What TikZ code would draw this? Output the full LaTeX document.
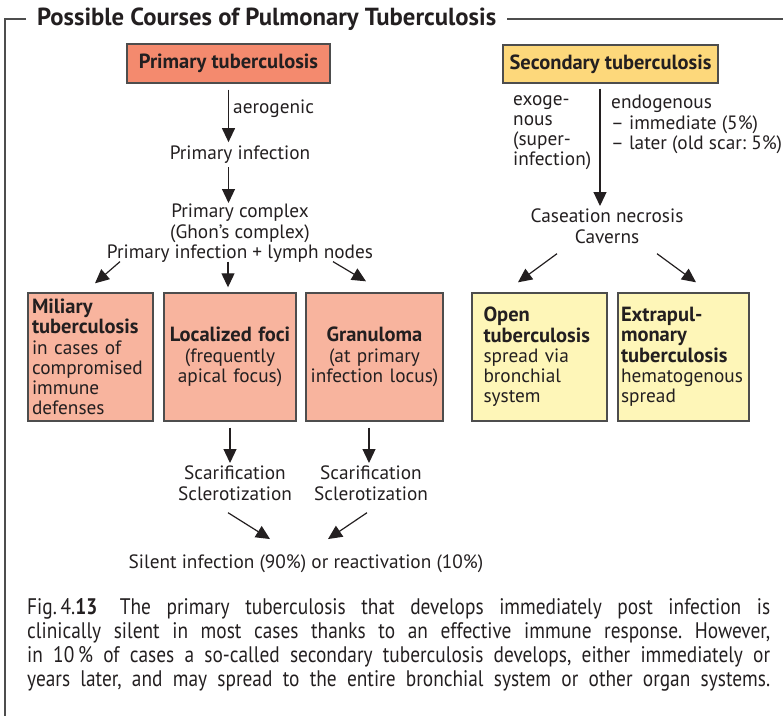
\documentclass[tikz,border=0pt]{standalone}
\usepackage{fontspec}
\setmainfont{PT Sans}
\newfontfamily\capfont[FakeStretch=0.86]{PT Sans}
\usetikzlibrary{arrows.meta}
\definecolor{ink}{HTML}{231F20}
\definecolor{edge}{HTML}{4D4D4D}
\definecolor{primc}{HTML}{F48A6E}
\definecolor{primlt}{HTML}{F8B49E}
\definecolor{secc}{HTML}{FDD87B}
\definecolor{seclt}{HTML}{FEF6B8}
\newcommand\bx[1]{{\fontsize{20.5}{20.3}\selectfont\bfseries #1}}
\newcommand\capline[1]{\makebox[743pt][s]{#1}}
\begin{document}
\frenchspacing
\begin{tikzpicture}[x=1pt,y=-1pt,
  every node/.style={text=ink, inner sep=0pt},
  font=\fontsize{19.3}{20.3}\selectfont,
  arr/.style={draw=ink, line width=1.2pt, -{Triangle[length=14pt,width=13pt]}},
  framel/.style={draw=edge, line width=1.2pt},
  box/.style={draw=edge, line width=1.4pt, align=center},
  boldf/.style={font=\bfseries\fontsize{20.5}{20.3}\selectfont}]
\useasboundingbox (0,0) rectangle (783,716);

% title and frame
\node[anchor=base west, font=\bfseries\fontsize{24.7}{26}\selectfont] (title) at (37,25) {Possible Courses of Pulmonary Tuberculosis};
\draw[framel] (26,19) -- (5,19) -- (5,716);
\draw[framel] (507,19) -- (783,19);

% primary branch
\node[box, fill=primc, minimum width=203pt, minimum height=39pt, boldf] (ptb) at (228.5,63.5) {Primary tuberculosis};
\node[anchor=base west] (aero) at (233,113) {aerogenic};
\node[anchor=base] (pinf) at (240,159) {Primary infection};
\node[anchor=north, align=center] (pcomp) at (240,204) {Primary complex\\(Ghon's complex)\\Primary infection + lymph nodes};

\node[box, fill=primlt, minimum width=125pt, minimum height=128pt, text width=117pt, align=left] (mil) at (90.5,357)
  {\bx{Miliary}\\\bx{tuberculosis}\\in cases of\\compromised\\immune\\defenses};
\node[box, fill=primlt, minimum width=132pt, minimum height=128pt, text width=126pt] (loc) at (230,357)
  {\bx{Localized foci}\\(frequently\\apical focus)};
\node[box, fill=primlt, minimum width=137pt, minimum height=128pt, text width=133pt] (gran) at (374.5,357)
  {\bx{Granuloma}\\(at primary\\infection locus)};

\node[anchor=north, align=center] (scar1) at (235,466) {Scarification\\Sclerotization};
\node[anchor=north, align=center] (scar2) at (371,466) {Scarification\\Sclerotization};
\node[anchor=base] (silent) at (306,568) {Silent infection (90\%) or reactivation (10\%)};

\draw[arr] ([yshift=-6pt]ptb.south) -- ([yshift=3pt]ptb.south |- pinf.north);
\draw[arr] ([yshift=-4pt]ptb.south |- pinf.south) -- ([yshift=1pt]ptb.south |- pcomp.north);
\draw[arr] ([xshift=-120pt,yshift=1pt]pcomp.south) -- ([xshift=4.5pt,yshift=9pt]mil.north);
\draw[arr] ([xshift=-12pt,yshift=1pt]pcomp.south) -- ([xshift=-2pt,yshift=5pt]loc.north);
\draw[arr] ([xshift=93pt,yshift=1pt]pcomp.south) -- ([xshift=-8.5pt,yshift=11pt]gran.north);
\draw[arr] ([yshift=-6pt]loc.south) -- ([yshift=3pt]loc.south |- scar1.north);
\draw[arr] ([xshift=-5.5pt,yshift=-6pt]gran.south) -- ([xshift=-5.5pt,yshift=3pt]gran.south |- scar2.north);
\draw[arr] ([xshift=-7pt,yshift=-12pt]scar1.south) -- ([xshift=-36pt,yshift=15pt]silent.north);
\draw[arr] ([xshift=-4pt,yshift=-12pt]scar2.south) -- ([xshift=22pt,yshift=15pt]silent.north);

% secondary branch
\node[box, fill=secc, minimum width=215pt, minimum height=38pt, boldf] (stb) at (610.5,64) {Secondary tuberculosis};
\node[anchor=north west, align=left] (exo) at (513,95) {exoge-\\nous\\(super-\\infection)};
\node[anchor=north west, align=left] (endo) at (611,95) {endogenous\\– immediate (5\%)\\– later (old scar: 5\%)};
\node[anchor=north, align=center] (cas) at (607,209) {Caseation necrosis\\Caverns};

\node[box, fill=seclt, minimum width=135pt, minimum height=128pt, text width=112pt, align=left] (open) at (539.5,357)
  {\bx{Open}\\\bx{tuberculosis}\\spread via\\bronchial\\system};
\node[box, fill=seclt, minimum width=131pt, minimum height=128pt, text width=125pt, align=left] (extra) at (683.5,357)
  {\bx{Extrapul-}\\\bx{monary}\\\bx{tuberculosis}\\hematogenous\\spread};

\draw[arr] ([xshift=-10.5pt,yshift=-5pt]stb.south) -- ([xshift=-7pt,yshift=3pt]cas.north);
\draw[arr] ([xshift=-50pt,yshift=-10pt]cas.south) -- ([xshift=-21.5pt,yshift=10pt]open.north);
\draw[arr] ([xshift=50pt,yshift=-10pt]cas.south) -- ([xshift=12.5pt,yshift=10pt]extra.north);

% caption
\node[anchor=north west, align=left, font=\capfont\fontsize{22.5}{24}\selectfont] (cap) at (27,598)
  {\capline{Fig.\,4.\textbf{13}\quad The primary tuberculosis that develops immediately post infection is}\\
   \capline{clinically silent in most cases thanks to an effective immune response. However,}\\
   \capline{in 10\,\% of cases a so-called secondary tuberculosis develops, either immediately or}\\
   \capline{years later, and may spread to the entire bronchial system or other organ systems.}};
\end{tikzpicture}
\end{document}
